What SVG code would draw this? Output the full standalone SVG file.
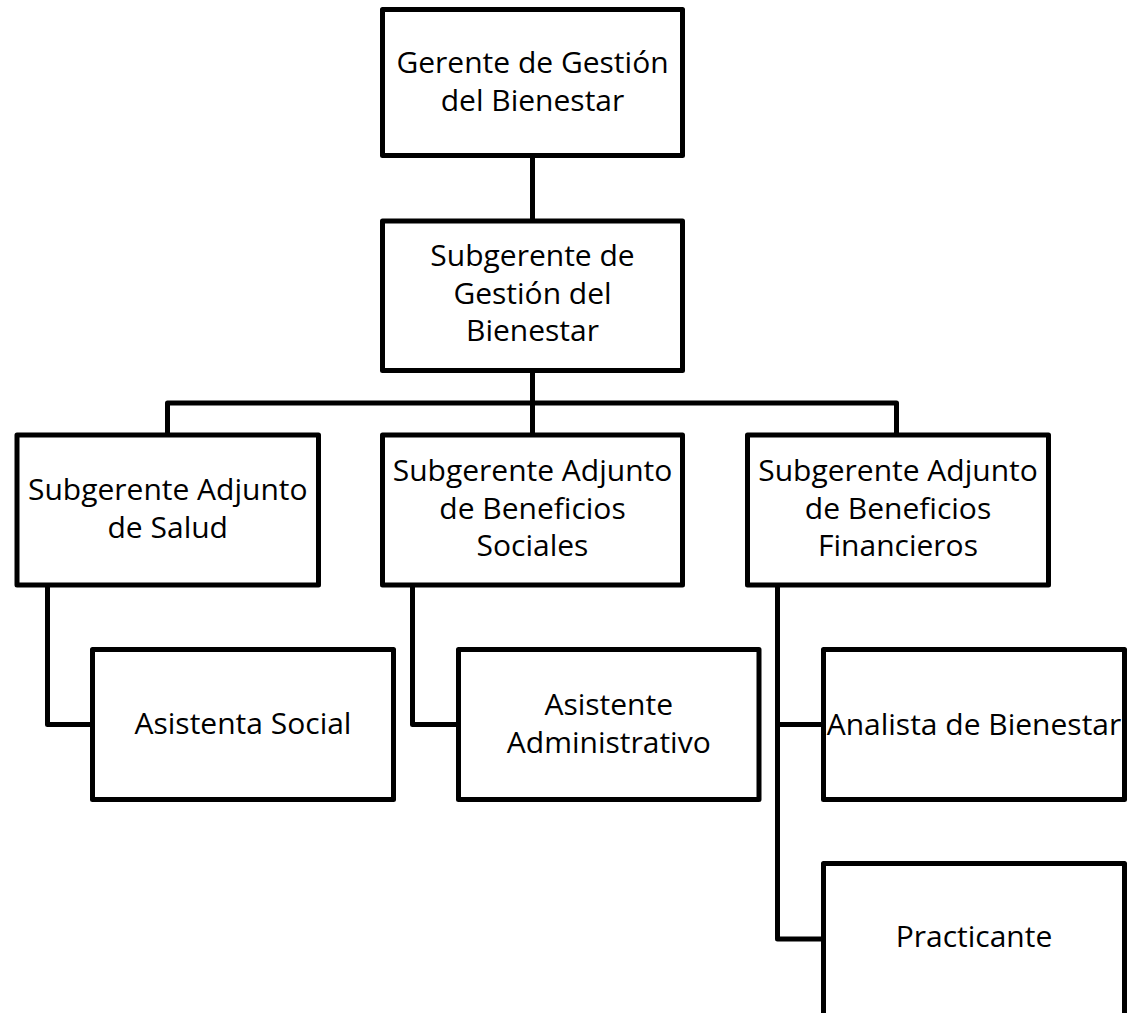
<svg xmlns="http://www.w3.org/2000/svg" width="1128" height="1013" viewBox="0 0 1128 1013">
  <style>
    .box { fill: #ffffff; stroke: #000000; stroke-width: 5; stroke-linejoin: round; }
    .link { fill: none; stroke: #000000; stroke-width: 5; stroke-linejoin: round; }
    text { font-family: "Open Sans", "Liberation Sans", sans-serif; font-size: 30px; fill: #000000; text-anchor: middle; }
  </style>
  <rect width="1128" height="1013" fill="#ffffff"/>

  <!-- connectors -->
  <g id="connectors">
    <path class="link" d="M532.5 155.5 V221"/>
    <path class="link" d="M532.5 370.5 V435"/>
    <path class="link" d="M167.5 435 V403 H896.5 V435"/>
    <path class="link" d="M47.5 585 V724.5 H92.5"/>
    <path class="link" d="M412.5 585 V724.5 H458.5"/>
    <path class="link" d="M777.5 585 V939 H823.5"/>
    <path class="link" d="M777.5 724.5 H823.5"/>
  </g>

  <!-- level 1 -->
  <g id="gerente">
    <rect class="box" x="382.5" y="9.5" width="300" height="146"/>
    <text x="532.5" y="73">Gerente de Gestión</text>
    <text x="532.5" y="110.5">del Bienestar</text>
  </g>

  <!-- level 2 -->
  <g id="subgerente">
    <rect class="box" x="382.5" y="221" width="300" height="149.5"/>
    <text x="532.5" y="266">Subgerente de</text>
    <text x="532.5" y="303.5">Gestión del</text>
    <text x="532.5" y="341">Bienestar</text>
  </g>

  <!-- level 3 -->
  <g id="adjunto-salud">
    <rect class="box" x="17" y="435" width="301.5" height="150"/>
    <text x="167.75" y="500">Subgerente Adjunto</text>
    <text x="167.75" y="537.5">de Salud</text>
  </g>
  <g id="adjunto-sociales">
    <rect class="box" x="382.5" y="435" width="300" height="150"/>
    <text x="532.5" y="481">Subgerente Adjunto</text>
    <text x="532.5" y="518.5">de Beneficios</text>
    <text x="532.5" y="556">Sociales</text>
  </g>
  <g id="adjunto-financieros">
    <rect class="box" x="747.5" y="435" width="301" height="150"/>
    <text x="898" y="481">Subgerente Adjunto</text>
    <text x="898" y="518.5">de Beneficios</text>
    <text x="898" y="556">Financieros</text>
  </g>

  <!-- level 4 -->
  <g id="asistenta-social">
    <rect class="box" x="92.5" y="649.5" width="301" height="150"/>
    <text x="243" y="734">Asistenta Social</text>
  </g>
  <g id="asistente-administrativo">
    <rect class="box" x="458.5" y="649.5" width="300.5" height="150"/>
    <text x="608.75" y="715">Asistente</text>
    <text x="608.75" y="752.5">Administrativo</text>
  </g>
  <g id="analista-bienestar">
    <rect class="box" x="823.5" y="649.5" width="301" height="150"/>
    <text x="974" y="735">Analista de Bienestar</text>
  </g>
  <g id="practicante">
    <rect class="box" x="823.5" y="863.5" width="301" height="160"/>
    <text x="974" y="946.5">Practicante</text>
  </g>
</svg>
